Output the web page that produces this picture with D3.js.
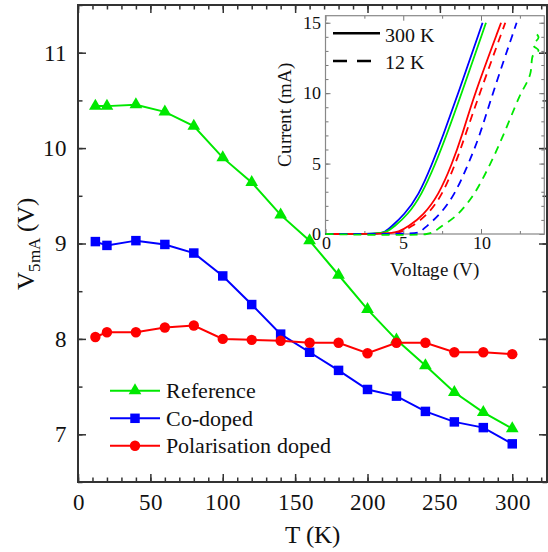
<html>
<head>
<script src="https://d3js.org/d3.v7.min.js" charset="utf-8"></script>
<style>
  @font-face {
    font-family: 'PlotSerif';
    src: local('Liberation Serif'), local('LiberationSerif'), local('LiberationSerif-Regular'),
         local('Times New Roman'), local('DejaVu Serif'), local('DejaVuSerif');
  }
  body { margin: 0; background: #fff; }
  svg text { fill: #111; }
  .axis path { display: none; }
  .axis line { stroke: #333; stroke-width: 1.5; }
  .inset .axis line { stroke: #777; stroke-width: 1; }
</style>
</head>
<body>
<svg id="chart" width="548" height="552"></svg>
<script>
// main chart: voltage at 5 mA vs temperature
const temps = [12, 20, 40, 60, 80, 100, 120, 140, 160, 180, 200, 220, 240, 260, 280, 300];
const reference = [10.44, 10.44, 10.455, 10.38, 10.23, 9.90, 9.64, 9.30, 9.03, 8.67, 8.31, 7.99, 7.72, 7.44, 7.23, 7.06];
const coDoped = [9.02, 8.98, 9.03, 8.99, 8.90, 8.66, 8.36, 8.05, 7.86, 7.67, 7.47, 7.40, 7.24, 7.13, 7.07, 6.90];
const polarisation = [8.02, 8.07, 8.07, 8.12, 8.14, 8.00, 7.99, 7.98, 7.96, 7.96, 7.85, 7.96, 7.96, 7.86, 7.86, 7.84];
const seriesNames = ['Reference', 'Co-doped', 'Polarisation doped'];

const xTicks = [0, 50, 100, 150, 200, 250, 300];
const yTicks = [7, 8, 9, 10, 11];

// inset: I-V curves (current in mA, voltage in V)
const iSteps = [0, 0, 0, 0.15, 0.5, 1.34, 2.76, 4.95, 7.04, 9.7, 15.0, 15.0];
const vBlue300 = [0, 0, 3.4, 3.85, 4.2, 5.05, 6.0, 6.85, 7.58, 8.44, 10.1, 10.1];
const vGreen300 = [0, 0, 3.5, 3.95, 4.4, 5.27, 6.17, 7.06, 7.79, 8.66, 10.32, 10.32];
const vRed300 = [0, 0, 4.1, 4.7, 5.3, 6.3, 7.27, 8.13, 8.8, 9.5, 11.29, 11.29];
const vRed12 = [0, 0, 4.3, 4.9, 5.5, 6.56, 7.5, 8.35, 9.0, 9.82, 11.56, 11.56];
const vBlue12 = [0, 0, 5.8, 6.1, 6.45, 7.33, 8.3, 9.18, 9.94, 10.66, 12.29, 12.29];
const vGreen12 = [0, 6.5, 6.95, 7.4, 8.44, 9.5, 10.58, 11.44, 12.45, 13.15, 13.35, 13.7, 13.36, 13.7, 13.5];
const iGreen12 = [0, 0, 0.15, 0.5, 1.34, 2.76, 4.95, 7.04, 9.7, 11.3, 12.7, 13.05, 13.4, 13.95, 14.3];

const green = '#00e800', blue = '#0000ff', red = '#ff0000';
const serif = 'PlotSerif, "Liberation Serif", "Times New Roman", "DejaVu Serif", serif';

const svg = d3.select('#chart');
const pLeft = 78, pRight = 547, pTop = 5, pBottom = 482;

const x = d3.scaleLinear().domain([0, 324]).range([pLeft, pRight]);
const y = d3.scaleLinear().domain([6.5, 11.5]).range([pBottom, pTop]);

function drawTicks(g, axisFn, scale, majors, minors, majorLen, minorLen, pad, fmt) {
  g.append('g').attr('class', 'axis').call(axisFn(scale).tickValues(minors).tickSize(-minorLen).tickFormat(''));
  return g.append('g').attr('class', 'axis').call(axisFn(scale).tickValues(majors).tickSize(-majorLen).tickPadding(pad).tickFormat(fmt));
}

const xMinor = d3.range(0, 321, 10);
const yMinor = d3.range(6.5, 11.51, 0.5);

const gB = svg.append('g').attr('transform', `translate(0,${pBottom})`);
drawTicks(gB, d3.axisBottom, x, xTicks, xMinor, 8, 4.5, 12, d3.format('d'))
  .selectAll('text').style('font-size', '23px');
const gT = svg.append('g').attr('transform', `translate(0,${pTop})`);
drawTicks(gT, d3.axisTop, x, xTicks, xMinor, 8, 4.5, 0, '');
const gL = svg.append('g').attr('transform', `translate(${pLeft},0)`);
drawTicks(gL, d3.axisLeft, y, yTicks, yMinor, 8, 4.5, 11, d3.format('d'))
  .selectAll('text').style('font-size', '23px');
const gR = svg.append('g').attr('transform', `translate(${pRight},0)`);
drawTicks(gR, d3.axisRight, y, yTicks, yMinor, 8, 4.5, 0, '');

svg.append('rect')
  .attr('x', pLeft).attr('y', pTop)
  .attr('width', pRight - pLeft).attr('height', pBottom - pTop)
  .attr('fill', 'none').attr('stroke', '#333').attr('stroke-width', 2);

// axis titles
svg.append('text')
  .attr('x', (pLeft + pRight) / 2).attr('y', 543)
  .attr('text-anchor', 'middle').style('font-size', '25px')
  .text('T (K)');

const yt = svg.append('text')
  .attr('transform', `translate(34,${(pTop + pBottom) / 2}) rotate(-90)`)
  .attr('text-anchor', 'middle').style('font-size', '25px');
yt.append('tspan').text('V');
yt.append('tspan').attr('dy', 6).style('font-size', '17px').text('5mA');
yt.append('tspan').attr('dy', -6).text(' (V)');

// series
const series = [
  { name: seriesNames[0], vals: reference, color: green, sym: d3.symbolTriangle, size: 70 },
  { name: seriesNames[1], vals: coDoped, color: blue, sym: d3.symbolSquare, size: 90 },
  { name: seriesNames[2], vals: polarisation, color: red, sym: d3.symbolCircle, size: 85 }
];

const line = d3.line().x((d, i) => x(temps[i])).y(d => y(d));

series.forEach(s => {
  svg.append('path')
    .datum(s.vals)
    .attr('d', line)
    .attr('fill', 'none').attr('stroke', s.color).attr('stroke-width', 2);
  svg.selectAll(null)
    .data(s.vals)
    .enter()
    .append('path')
    .attr('d', d3.symbol().type(s.sym).size(s.size))
    .attr('transform', (d, i) => `translate(${x(temps[i])},${y(d)})`)
    .attr('fill', s.color);
});

// legend
const legendY = [390.7, 418.3, 445.7];
series.forEach((s, i) => {
  svg.append('line')
    .attr('x1', 110).attr('x2', 160)
    .attr('y1', legendY[i]).attr('y2', legendY[i])
    .attr('stroke', s.color).attr('stroke-width', 2);
  svg.append('path')
    .attr('d', d3.symbol().type(s.sym).size(s.size))
    .attr('transform', `translate(135,${legendY[i]})`)
    .attr('fill', s.color);
  svg.append('text')
    .attr('x', 166).attr('y', legendY[i]).attr('dy', '0.34em')
    .style('font-size', '21.5px')
    .text(s.name);
});

// inset
const iL = 325.5, iR = 544.3, iT = 15.7, iB = 234;
const xi = d3.scaleLinear().domain([0, 14.07]).range([iL, iR]);
const yi = d3.scaleLinear().domain([0, 15.5]).range([iB, iT]);

const inset = svg.append('g').attr('class', 'inset');
const ixMinor = [2.5, 7.5, 12.5];
const iyMinor = d3.range(0, 16, 1);

const ib = inset.append('g').attr('transform', `translate(0,${iB})`);
drawTicks(ib, d3.axisBottom, xi, [0, 5, 10], ixMinor, 5, 3, 2, d3.format('d'))
  .selectAll('text').style('font-size', '18px');
const it = inset.append('g').attr('transform', `translate(0,${iT})`);
drawTicks(it, d3.axisTop, xi, [0, 5, 10], ixMinor, 5, 3, 0, '');
const il = inset.append('g').attr('transform', `translate(${iL},0)`);
drawTicks(il, d3.axisLeft, yi, [0, 5, 10, 15], iyMinor, 5, 3, 5, d3.format('d'))
  .selectAll('text').style('font-size', '18px');
const ir = inset.append('g').attr('transform', `translate(${iR},0)`);
drawTicks(ir, d3.axisRight, yi, [0, 5, 10, 15], iyMinor, 5, 3, 0, '');

inset.append('rect')
  .attr('x', iL).attr('y', iT)
  .attr('width', iR - iL).attr('height', iB - iT)
  .attr('fill', 'none').attr('stroke', '#888').attr('stroke-width', 1.2);

inset.append('text')
  .attr('x', (iL + iR) / 2).attr('y', 276)
  .attr('text-anchor', 'middle').style('font-size', '19px')
  .text('Voltage (V)');
inset.append('text')
  .attr('transform', 'translate(291,115) rotate(-90)')
  .attr('text-anchor', 'middle').style('font-size', '19px')
  .text('Current (mA)');

const curves = [
  { v: vBlue300, i: iSteps, color: blue, dash: null, smooth: d3.curveBasis },
  { v: vGreen300, i: iSteps, color: green, dash: null, smooth: d3.curveBasis },
  { v: vRed300, i: iSteps, color: red, dash: null, smooth: d3.curveBasis },
  { v: vRed12, i: iSteps, color: red, dash: '8,6', smooth: d3.curveBasis },
  { v: vBlue12, i: iSteps, color: blue, dash: '8,6', smooth: d3.curveBasis },
  { v: vGreen12, i: iGreen12, color: green, dash: '8,6', smooth: d3.curveCatmullRom.alpha(0.5) }
];

curves.forEach(c => {
  const ln = d3.line().x((d, k) => xi(c.v[k])).y(d => yi(d)).curve(c.smooth);
  inset.append('path')
    .datum(c.i)
    .attr('d', ln)
    .attr('fill', 'none').attr('stroke', c.color).attr('stroke-width', 1.8)
    .attr('stroke-dasharray', c.dash);
});

// inset legend
inset.append('line')
  .attr('x1', 333).attr('x2', 380).attr('y1', 33.3).attr('y2', 33.3)
  .attr('stroke', '#000').attr('stroke-width', 2.4);
inset.append('line')
  .attr('x1', 333).attr('x2', 380).attr('y1', 61).attr('y2', 61)
  .attr('stroke', '#000').attr('stroke-width', 2.4).attr('stroke-dasharray', '14,10');
inset.append('text').attr('x', 385).attr('y', 41.5).style('font-size', '20px').text('300 K');
inset.append('text').attr('x', 385).attr('y', 68.5).style('font-size', '20px').text('12 K');

svg.selectAll('g').attr('font-family', null);
svg.selectAll('text').style('font-family', serif);
</script>
</body>
</html>
